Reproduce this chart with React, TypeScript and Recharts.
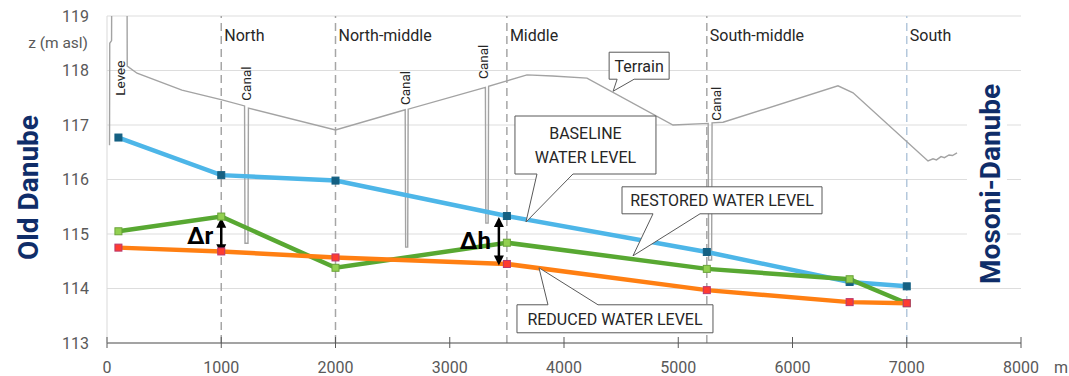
import React from 'react';
import { ComposedChart, Line, XAxis, YAxis, CartesianGrid, ReferenceLine, ReferenceDot } from 'recharts';

// ---------- data ----------
const xTicks = [0, 1000, 2000, 3000, 4000, 5000, 6000, 7000, 8000];
const yTicks = [113, 114, 115, 116, 117, 118, 119];

const stationX = [100, 1000, 2000, 3500, 5250, 6500, 7000];
const baselineZ = [116.77, 116.08, 115.98, 115.33, 114.67, 114.12, 114.04];
const restoredZ = [115.05, 115.32, 114.38, 114.84, 114.36, 114.17, 113.73];
const reducedZ = [114.75, 114.68, 114.57, 114.45, 113.97, 113.75, 113.73];

const terrainX = [22, 24, 40, 42, 175, 177, 263, 656, 1007, 1204, 1208, 1234, 1238, 2000,
  2610, 2614, 2632, 2636, 3312, 3316, 3336, 3340, 3500, 3676, 3900, 4201, 4954, 5262, 5266,
  5292, 5296, 5392, 6398, 6530, 7186, 7230, 7260, 7300, 7330, 7370, 7400, 7440];
const terrainZ = [116.63, 118.5, 118.55, 120, 120, 118.08, 117.95, 117.64, 117.46, 117.35, 114.83, 114.83, 117.31, 116.91,
  117.28, 114.76, 114.76, 117.29, 117.69, 115.2, 115.2, 117.71, 117.81, 117.92, 117.9, 117.86, 117.0, 117.03, 114.52,
  114.52, 117.04, 117.05, 117.72, 117.59, 116.34, 116.38, 116.36, 116.42, 116.4, 116.45, 116.44, 116.49];

const regionNames = ['North', 'North-middle', 'Middle', 'South-middle', 'South'];
const regionX = [1000, 2000, 3500, 5250, 7000];

const featureText = ['Levee', 'Canal', 'Canal', 'Canal', 'Canal'];
const featureX = [114, 1217, 2608, 3291, 5330];
const featureZ = [117.86, 117.76, 117.68, 118.16, 117.39];

const deltaText = ['Δr', 'Δh'];
const deltaX = [1000, 3430];
const deltaTop = [115.3, 115.31];
const deltaBottom = [114.63, 114.42];

const calloutLines = [['Terrain'], ['BASELINE', 'WATER LEVEL'], ['RESTORED WATER LEVEL'], ['REDUCED WATER LEVEL']];
const calloutTipX = [4430, 3667, 4604, 3781];
const calloutTipZ = [117.62, 115.22, 114.6, 114.38];

// ---------- built tables ----------
const mk = (xs: number[], zs: number[]) => xs.map((x, i) => ({ x, z: zs[i] }));
const baseline = mk(stationX, baselineZ);
const restored = mk(stationX, restoredZ);
const reduced = mk(stationX, reducedZ);
const terrain = mk(terrainX, terrainZ);

// ---------- layout / styles ----------
const calloutBoxes = [
  { l: -4, r: 56, t: -39, b: -12, b1: 4, b2: 21 },
  { l: -11, r: 130, t: -106, b: -48, b1: 11, b2: 47 },
  { l: -11, r: 189, t: -69, b: -42, b1: 20, b2: 67 },
  { l: -22, r: 174, t: 37, b: 65, b1: 9, b2: 59 },
];

const TXT = '#595959';
const NAVY = '#0F2D69';

const squareDot = (fill: string, stroke: string) => (props: any) => {
  const { cx, cy, index } = props;
  if (cx == null || cy == null) return <g key={index} />;
  return <rect key={index} x={cx - 3.5} y={cy - 3.5} width={7} height={7} fill={fill} stroke={stroke} strokeWidth={1} />;
};

const XTick = (props: any) => {
  const { x, y, payload } = props;
  return (
    <g>
      <line x1={x} x2={x} y1={y - 6} y2={y + 5} stroke="#595959" strokeWidth={1} />
      <text x={x} y={y + 30} textAnchor="middle" fontSize={16} fill={TXT}>{payload.value}</text>
    </g>
  );
};

const Callout = (idx: number) => (props: any) => {
  const { cx, cy } = props;
  const bx = calloutBoxes[idx];
  const lines = calloutLines[idx];
  const L = cx + bx.l, R = cx + bx.r, T = cy + bx.t, B = cy + bx.b;
  let d: string;
  if (bx.t < 0) {
    d = `M${L},${T} H${R} V${B} H${cx + bx.b2} L${cx},${cy} L${cx + bx.b1},${B} H${L} Z`;
  } else {
    d = `M${L},${T} H${cx + bx.b1} L${cx},${cy} L${cx + bx.b2},${T} H${R} V${B} H${L} Z`;
  }
  const mid = (T + B) / 2;
  const lh = 24;
  const first = mid - ((lines.length - 1) * lh) / 2 + 6;
  return (
    <g>
      <path d={d} fill="#fff" stroke="#595959" strokeWidth={1} />
      {lines.map((s, i) => (
        <text key={i} x={(L + R) / 2} y={first + i * lh} textAnchor="middle" fontSize={16} fill="#262626">{s}</text>
      ))}
    </g>
  );
};

const DeltaArrow = (idx: number) => (props: any) => {
  const { x1, y1, x2, y2 } = props;
  if (x1 == null) return <g />;
  const top = Math.min(y1, y2), bot = Math.max(y1, y2);
  const x = x1;
  return (
    <g>
      <line x1={x} x2={x} y1={top + 8} y2={bot - 8} stroke="#000" strokeWidth={2.5} />
      <polygon points={`${x},${top} ${x - 5},${top + 10} ${x + 5},${top + 10}`} fill="#000" />
      <polygon points={`${x},${bot} ${x - 5},${bot - 10} ${x + 5},${bot - 10}`} fill="#000" />
      <text x={x - 8} y={(top + bot) / 2 + 8} textAnchor="end" fontSize={24} fontWeight="bold" fill="#000">{deltaText[idx]}</text>
    </g>
  );
};

const YLabel = (props: any) => {
  const vb = props.viewBox || { x: 0, y: 16, width: 107, height: 327 };
  const cx = vb.x + 28;
  const cy = vb.y + vb.height / 2 + 8;
  return (
    <g>
      <text x={vb.x + vb.width - 19} y={vb.y + 32} textAnchor="end" fontSize={15.5} fill={TXT}>z (m asl)</text>
      <text x={cx} y={cy} transform={`rotate(-90 ${cx} ${cy})`} textAnchor="middle" dominantBaseline="central"
        fontSize={28} fontWeight="bold" fill={NAVY}>Old Danube</text>
    </g>
  );
};

export default function App() {
  return (
    <div style={{ position: 'absolute', left: 0, top: 0, width: 1069, height: 376, background: '#fff', fontFamily: 'Roboto, sans-serif' }}>
      <ComposedChart width={1069} height={376} margin={{ top: 16, right: 48, left: 0, bottom: 0 }}>
        <CartesianGrid horizontal vertical={false} stroke="#DDDDDD" strokeWidth={1} />
        <XAxis type="number" dataKey="x" domain={[0, 8000]} ticks={xTicks} interval={0} height={33}
          axisLine={{ stroke: '#595959', strokeWidth: 1 }} tickLine={false} tickSize={0} tickMargin={0} tick={<XTick />} />
        <YAxis type="number" domain={[113, 119]} ticks={yTicks} interval={0} width={107} allowDataOverflow
          axisLine={{ stroke: '#D9D9D9' }} tickLine={false} tickMargin={12}
          tick={{ fontSize: 16, fill: TXT }} label={YLabel} />

        {regionX.map((x, i) => (
          <ReferenceLine key={'r' + i} x={x} stroke={i === regionX.length - 1 ? '#B4C8DC' : '#A6A6A6'}
            strokeWidth={1.5} strokeDasharray="8 5" />
        ))}

        <Line data={terrain} dataKey="z" type="linear" stroke="#A3A3A3" strokeWidth={1.4} dot={false}
          isAnimationActive={false} legendType="none" />
        <Line data={baseline} dataKey="z" type="linear" stroke="#4DB6E8" strokeWidth={4.5}
          dot={squareDot('#156082', '#156082')} activeDot={false} isAnimationActive={false} legendType="none" />
        <Line data={restored} dataKey="z" type="linear" stroke="#58A832" strokeWidth={4.5}
          dot={squareDot('#92D050', '#6AA33A')} activeDot={false} isAnimationActive={false} legendType="none" />
        <Line data={reduced} dataKey="z" type="linear" stroke="#FF7F12" strokeWidth={4.5}
          dot={squareDot('#FF3B30', '#B8386E')} activeDot={false} isAnimationActive={false} legendType="none" />

        {regionX.map((x, i) => (
          <ReferenceDot key={'rl' + i} x={x} y={119} r={0}
            shape={(p: any) => (
              <text x={p.cx + 3} y={p.cy + 25} fontSize={16} fill="#262626">{regionNames[i]}</text>
            )} />
        ))}

        {featureX.map((x, i) => (
          <ReferenceDot key={'f' + i} x={x} y={featureZ[i]} r={0}
            shape={(p: any) => (
              <text x={p.cx} y={p.cy} transform={`rotate(-90 ${p.cx} ${p.cy})`} textAnchor="middle"
                dominantBaseline="central" fontSize={13.5} fill="#262626">{featureText[i]}</text>
            )} />
        ))}

        {deltaX.map((x, i) => (
          <ReferenceLine key={'d' + i} segment={[{ x, y: deltaTop[i] }, { x, y: deltaBottom[i] }]}
            shape={DeltaArrow(i)} />
        ))}

        {calloutTipX.map((x, i) => (
          <ReferenceDot key={'c' + i} x={x} y={calloutTipZ[i]} r={0} shape={Callout(i)} />
        ))}

        <ReferenceDot x={7737} y={115.92} r={0}
          shape={(p: any) => (
            <g>
              <rect x={p.cx - 24} y={p.cy - 102} width={40} height={204} fill="#fff" />
              <text x={p.cx} y={p.cy} transform={`rotate(-90 ${p.cx} ${p.cy})`} textAnchor="middle"
                dominantBaseline="central" fontSize={28} fontWeight="bold" fill={NAVY}>Mosoni-Danube</text>
            </g>
          )} />

        <ReferenceDot x={8000} y={113} r={0}
          shape={(p: any) => (
            <text x={p.cx + 33} y={p.cy + 30} fontSize={16} fill={TXT}>m</text>
          )} />
      </ComposedChart>
    </div>
  );
}
